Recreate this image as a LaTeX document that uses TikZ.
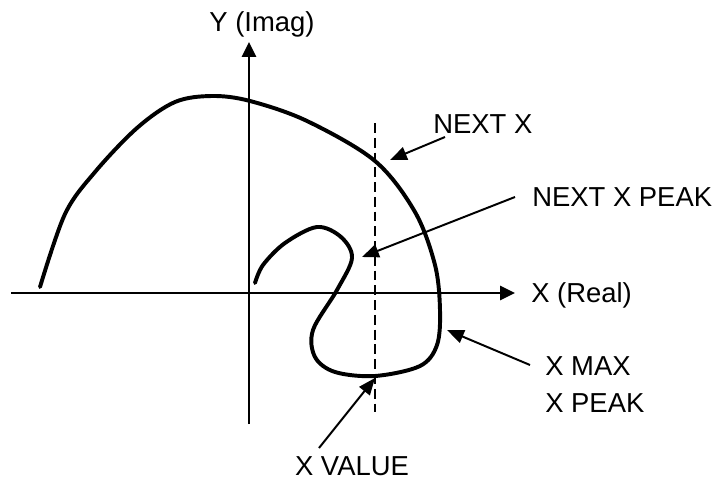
\documentclass[tikz,border=0pt]{standalone}
\usepackage{fontspec}
\setmainfont{Liberation Sans}
\usepackage{tikz}
\usetikzlibrary{arrows.meta}

\begin{document}
\begin{tikzpicture}[x=0.025cm, y=-0.025cm,
        lbl/.style={inner sep=0pt, font=\fontsize{19.5}{23}\selectfont},
        ax/.style={line width=1.4pt, -{Triangle[length=10.5pt, width=10pt]}},
        arr/.style={line width=1.4pt, -{Triangle[length=12pt, width=9.5pt]}},
        locus/.style={line width=2.8pt, line cap=round, line join=round},
        cut/.style={line width=1pt, dash pattern=on 7pt off 3.5pt}
      ]
        \useasboundingbox (0,0) rectangle (716,479);
        % axes
        \coordinate (xl) at (11,293);
        \coordinate (xr) at (515,293);
        \coordinate (yb) at (249,424);
        \coordinate (yt) at (249,42);
        \draw[ax] (xl) -- (xr);
        \draw[ax] (yb) -- (yt);
        \node[lbl, anchor=base west] (xreal) at (531,302) {X (Real)};
        \node[lbl, anchor=base] (yimag) at (262,32) {Y (Imag)};
        % dashed cut line
        \coordinate (ct) at (375,123);
        \coordinate (cb) at (375,412);
        \draw[cut] (ct) -- (cb);
        % locus
        \draw[locus] plot[smooth, tension=0.55] coordinates {
              (40,287) (65,214) (95,172) (137,128) (175,102) (212,96)
              (250,101) (307,121) (375,161) (415,212) (435,265) (440,310)
              (437,345) (420,366) (375,376) (335,372) (315,357) (313,330)
              (337,290) (352,258) (341,237) (317,227) (285,243) (263,265)
              (255,283)};
        % labels and pointers
        \node[lbl, anchor=base west] (nx) at (433,133) {NEXT X};
        \node[lbl, anchor=base west] (nxp) at (532,206) {NEXT X PEAK};
        \node[lbl, anchor=base west] (xmax) at (545,375) {X MAX};
        \node[lbl, anchor=base west] (xpeak) at (545,412) {X PEAK};
        \node[lbl, anchor=base] (xval) at (352,475) {X VALUE};
        \coordinate (nxa) at (445,137);  \coordinate (nxb) at (390,160);
        \coordinate (nxpa) at (515,197); \coordinate (nxpb) at (362,257);
        \coordinate (xma) at (530,365);  \coordinate (xmb) at (447,330);
        \coordinate (xva) at (319,448);  \coordinate (xvb) at (375,378);
        \draw[arr] (nxa) -- (nxb);
        \draw[arr] (nxpa) -- (nxpb);
        \draw[arr] (xma) -- (xmb);
        \draw[arr] (xva) -- (xvb);
      \end{tikzpicture}
\end{document}
